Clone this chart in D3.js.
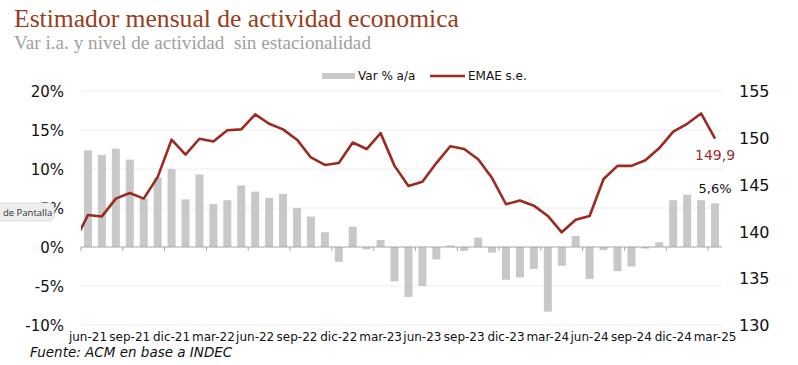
<!DOCTYPE html>
<html lang="es">
<head>
<meta charset="UTF-8">
<title>EMAE</title>
<style>
  body { margin: 0; background: #fff; }
  svg { display: block; }
</style>
</head>
<body>
<svg id="chart" width="798" height="365"></svg>
<script src="https://cdn.jsdelivr.net/npm/d3@7"></script>
<script>
// meses (jun-21 .. mar-25)
const meses = ["jun-21","jul-21","ago-21","sep-21","oct-21","nov-21","dic-21","ene-22","feb-22","mar-22","abr-22","may-22",
  "jun-22","jul-22","ago-22","sep-22","oct-22","nov-22","dic-22","ene-23","feb-23","mar-23","abr-23","may-23",
  "jun-23","jul-23","ago-23","sep-23","oct-23","nov-23","dic-23","ene-24","feb-24","mar-24","abr-24","may-24",
  "jun-24","jul-24","ago-24","sep-24","oct-24","nov-24","dic-24","ene-25","feb-25","mar-25"];
// variacion interanual %
const varIA = [12.4,11.8,12.6,11.2,6.2,8.9,10.0,6.1,9.3,5.5,6.0,7.9,
  7.1,6.3,6.8,5.0,3.9,1.9,-1.9,2.6,-0.3,0.9,-4.4,-6.4,
  -5.0,-1.6,0.2,-0.5,1.2,-0.7,-4.2,-3.9,-2.8,-8.3,-2.4,1.4,
  -4.1,-0.4,-3.1,-2.5,-0.2,0.6,6.0,6.7,6.0,5.6];
// EMAE desestacionalizado (el primer valor es may-21, queda cortado en el borde)
const emaeMayo21 = 138.8;
const emae = [141.75,141.6,143.5,144.1,143.5,145.8,149.8,148.2,149.9,149.6,150.8,150.9,
  152.5,151.5,150.9,149.8,147.9,147.1,147.3,149.5,148.8,150.5,147.0,144.85,
  145.3,147.3,149.1,148.8,147.7,145.7,142.9,143.3,142.75,141.65,139.9,141.25,
  141.65,145.6,147.0,147.0,147.6,148.9,150.65,151.5,152.6,149.9];
const ticksIzq = [-10,-5,0,5,10,15,20];
const ticksDer = [130,135,140,145,150,155];

const svg = d3.select("#chart");
const mIzq = 81, mDer = 722, mSup = 91, mInf = 325;
const rojo = "#9b2b22", gris = "#c8c8c8";

const x = d3.scaleLinear().domain([-0.5, meses.length - 0.5]).range([mIzq, mDer]);
const yL = d3.scaleLinear().domain([-10, 20]).range([mInf, mSup]);
const yR = d3.scaleLinear().domain([130, 155]).range([mInf, mSup]);
const barW = 8;

// titulos
svg.append("text").attr("x", 14).attr("y", 27)
  .attr("font-family", "Liberation Serif, serif").attr("font-size", 25.6)
  .attr("fill", "#9a3c1c").text("Estimador mensual de actividad economica");
svg.append("text").attr("x", 14).attr("y", 49)
  .attr("font-family", "Liberation Serif, serif").attr("font-size", 19.2)
  .attr("fill", "#a0a0a0").style("white-space", "pre")
  .text("Var i.a. y nivel de actividad  sin estacionalidad");

// grilla
svg.append("g").selectAll("line").data(ticksIzq.filter(d => d !== 0)).join("line")
  .attr("x1", mIzq).attr("x2", mDer)
  .attr("y1", d => yL(d)).attr("y2", d => yL(d))
  .attr("stroke", "#eeeeee").attr("stroke-width", 1);

// eje izquierdo
svg.append("g").attr("transform", `translate(${mIzq - 14},0)`)
  .call(d3.axisLeft(yL).tickValues(ticksIzq).tickSize(0).tickFormat(d => d + "%"))
  .call(g => g.select(".domain").remove())
  .call(g => g.selectAll("text").attr("font-family", "DejaVu Sans, Verdana, sans-serif")
    .attr("font-size", 15).attr("fill", "#111").attr("dy", "0.35em"));

// eje derecho
svg.append("g").attr("transform", `translate(${mDer + 14},0)`)
  .call(d3.axisRight(yR).tickValues(ticksDer).tickSize(0))
  .call(g => g.select(".domain").remove())
  .call(g => g.selectAll("text").attr("font-family", "DejaVu Sans, Verdana, sans-serif")
    .attr("font-size", 16).attr("fill", "#111").attr("dy", "0.35em"));

// barras
svg.append("g").selectAll("rect").data(varIA).join("rect")
  .attr("x", (d, i) => x(i) - barW / 2)
  .attr("width", barW)
  .attr("y", d => yL(Math.max(0, d)))
  .attr("height", d => Math.abs(yL(d) - yL(0)))
  .attr("fill", gris);

// linea cero y marcas
const y0 = yL(0);
svg.append("line").attr("x1", mIzq).attr("x2", mDer).attr("y1", y0).attr("y2", y0)
  .attr("stroke", "#a6a6a6").attr("stroke-width", 1);
const marcas = d3.range(0, meses.length + 1, 3);
svg.append("g").selectAll("line").data(marcas).join("line")
  .attr("x1", d => x(d - 0.5)).attr("x2", d => x(d - 0.5))
  .attr("y1", y0).attr("y2", y0 + 4)
  .attr("stroke", "#a6a6a6");

// etiquetas eje x
svg.append("g").selectAll("text").data(meses.filter((d, i) => i % 3 === 0)).join("text")
  .attr("x", (d, i) => x(i * 3)).attr("y", 341)
  .attr("text-anchor", "middle")
  .attr("font-family", "DejaVu Sans, Verdana, sans-serif").attr("font-size", 12)
  .attr("fill", "#111").text(d => d);

// linea EMAE
svg.append("defs").append("clipPath").attr("id", "area")
  .append("rect").attr("x", mIzq).attr("y", 0).attr("width", mDer - mIzq).attr("height", 365);
const puntos = [[-1, emaeMayo21]].concat(emae.map((v, i) => [i, v]));
svg.append("path").datum(puntos)
  .attr("clip-path", "url(#area)")
  .attr("d", d3.line().x(d => x(d[0])).y(d => yR(d[1])))
  .attr("fill", "none").attr("stroke", rojo).attr("stroke-width", 2.6)
  .attr("stroke-linejoin", "round");

// etiquetas de ultimo dato
const n = meses.length - 1;
svg.append("text").attr("x", x(n)).attr("y", 160).attr("text-anchor", "middle")
  .attr("font-family", "DejaVu Sans, Verdana, sans-serif").attr("font-size", 14)
  .attr("fill", "#a0302a").text(d3.format(".1f")(emae[n]).replace(".", ","));
svg.append("text").attr("x", x(n)).attr("y", 193).attr("text-anchor", "middle")
  .attr("font-family", "DejaVu Sans, Verdana, sans-serif").attr("font-size", 13)
  .attr("fill", "#111").text(d3.format(".1f")(varIA[n]).replace(".", ",") + "%");

// leyenda
const ley = svg.append("g").attr("font-family", "DejaVu Sans, Verdana, sans-serif").attr("font-size", 12).attr("fill", "#111");
ley.append("rect").attr("x", 322).attr("y", 73).attr("width", 33).attr("height", 6).attr("fill", gris);
ley.append("text").attr("x", 358).attr("y", 80).text("Var % a/a");
ley.append("line").attr("x1", 430).attr("x2", 465).attr("y1", 76).attr("y2", 76)
  .attr("stroke", rojo).attr("stroke-width", 2.6);
ley.append("text").attr("x", 468).attr("y", 80).text("EMAE s.e.");

// fuente
svg.append("text").attr("x", 30).attr("y", 357)
  .attr("font-family", "DejaVu Sans, Verdana, sans-serif").attr("font-size", 13.5)
  .attr("font-style", "italic").attr("fill", "#111").text("Fuente: ACM en base a INDEC");

// recuadro superpuesto (captura)
const cap = svg.append("g");
cap.append("rect").attr("x", -8).attr("y", 203).attr("width", 62).attr("height", 18).attr("rx", 5)
  .attr("fill", "#eeeeee").attr("stroke", "#dddddd");
cap.append("text").attr("x", 3).attr("y", 216)
  .attr("font-family", "Open Sans, Noto Sans, sans-serif").attr("font-size", 9.5)
  .attr("fill", "#333").text("de Pantalla");
</script>
</body>
</html>
